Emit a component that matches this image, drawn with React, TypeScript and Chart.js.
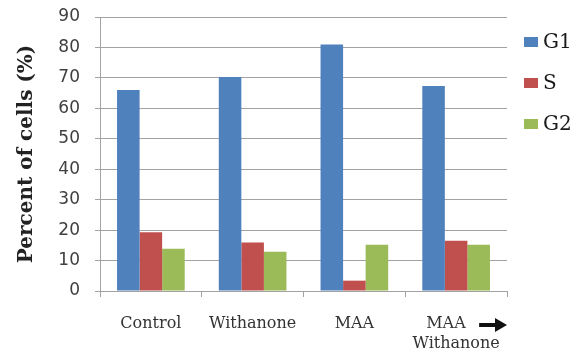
import React, { useEffect, useRef } from "react";
import { Chart, registerables } from "chart.js";

Chart.register(...registerables);

// Cell-cycle distribution per treatment
const categories: (string | string[])[] = [
  "Control",
  "Withanone",
  "MAA",
  ["MAA\u00a0\u00a0\u00a0\u00a0", "Withanone"],
];
const g1Values = [66, 70.3, 81, 67.3];
const sValues = [19.3, 15.9, 3.4, 16.5];
const g2Values = [13.9, 12.9, 15.2, 15.2];
const seriesNames = ["G1", "S", "G2"];
const seriesColors = ["#4F81BD", "#C0504D", "#9BBB59"];
const yTicks = { min: 0, max: 90, step: 10 };

const gridGray = "#a3a3a3";

// Legend drawn beside the plot area, one swatch per dataset
const sideLegend = {
  id: "sideLegend",
  afterDraw(chart: Chart) {
    const { ctx, chartArea } = chart;
    ctx.save();
    ctx.font = "20px 'DejaVu Serif'";
    ctx.textBaseline = "middle";
    ctx.textAlign = "left";
    chart.data.datasets.forEach((ds: any, i: number) => {
      const cy = chartArea.top + 25 + i * 41;
      const bx = chartArea.right + 17;
      ctx.fillStyle = ds.backgroundColor as string;
      ctx.fillRect(bx, cy - 5, 14, 10);
      ctx.fillStyle = "#1a1a1a";
      ctx.fillText(ds.label as string, bx + 19, cy + 1);
    });
    ctx.restore();
  },
};

// Arrow after the last combined-treatment label
const sequenceArrow = {
  id: "sequenceArrow",
  afterDraw(chart: Chart) {
    const { ctx, chartArea } = chart;
    const x = chart.scales.x;
    const last = x.getPixelForTick(categories.length - 1);
    const y = chartArea.bottom + 34;
    const x0 = last + 23;
    const x1 = chartArea.right;
    ctx.save();
    ctx.fillStyle = "#111";
    ctx.fillRect(x0, y - 2, x1 - x0 - 10, 4);
    ctx.beginPath();
    ctx.moveTo(x1 - 12, y - 7);
    ctx.lineTo(x1, y);
    ctx.lineTo(x1 - 12, y + 7);
    ctx.closePath();
    ctx.fill();
    ctx.restore();
  },
};

export default function App() {
  const canvasRef = useRef<HTMLCanvasElement | null>(null);

  useEffect(() => {
    document.body.style.margin = "0";
    const canvas = canvasRef.current;
    if (!canvas) return;
    const values = [g1Values, sValues, g2Values];
    const chart = new Chart(canvas, {
      type: "bar",
      data: {
        labels: categories,
        datasets: seriesNames.map((name, i) => ({
          label: name,
          data: values[i],
          backgroundColor: seriesColors[i],
          borderWidth: 0,
          categoryPercentage: 0.665,
          barPercentage: 1,
        })),
      },
      options: {
        responsive: false,
        animation: false,
        devicePixelRatio: 1,
        layout: { padding: { top: 17, right: 77, bottom: 0, left: 0 } },
        plugins: {
          legend: { display: false },
          tooltip: { enabled: false },
        },
        scales: {
          x: {
            grid: {
              display: true,
              drawOnChartArea: false,
              drawTicks: true,
              tickLength: 6,
              color: gridGray,
              offset: true,
            },
            border: { display: true, color: gridGray, width: 1 },
            ticks: {
              color: "#333",
              padding: 16,
              maxRotation: 0,
              autoSkip: false,
              font: { family: "'DejaVu Serif'", size: 16, lineHeight: 1.3 },
            },
            afterFit(scale: any) {
              scale.height = 62;
            },
          },
          y: {
            min: yTicks.min,
            max: yTicks.max,
            ticks: {
              stepSize: yTicks.step,
              color: "#404040",
              padding: 15,
              font: { family: "'DejaVu Sans'", size: 17 },
            },
            grid: {
              color: gridGray,
              lineWidth: 1,
              tickLength: 5,
              drawTicks: true,
            },
            border: { display: true, color: gridGray, width: 1 },
            title: {
              display: true,
              text: "Percent of cells (%)",
              color: "#222",
              padding: { top: 15, bottom: 0 },
              font: { family: "'DejaVu Serif'", size: 20, weight: "bold", lineHeight: 1.2 },
            },
            afterFit(scale: any) {
              scale.width = 100;
              scale.paddingTop = 0;
              scale.paddingBottom = 0;
            },
          },
        },
      },
      plugins: [sideLegend, sequenceArrow],
    });
    return () => chart.destroy();
  }, []);

  return (
    <div style={{ width: 584, height: 353, background: "#fff" }}>
      <canvas ref={canvasRef} width={584} height={353} style={{ display: "block", width: 584, height: 353 }} />
    </div>
  );
}
